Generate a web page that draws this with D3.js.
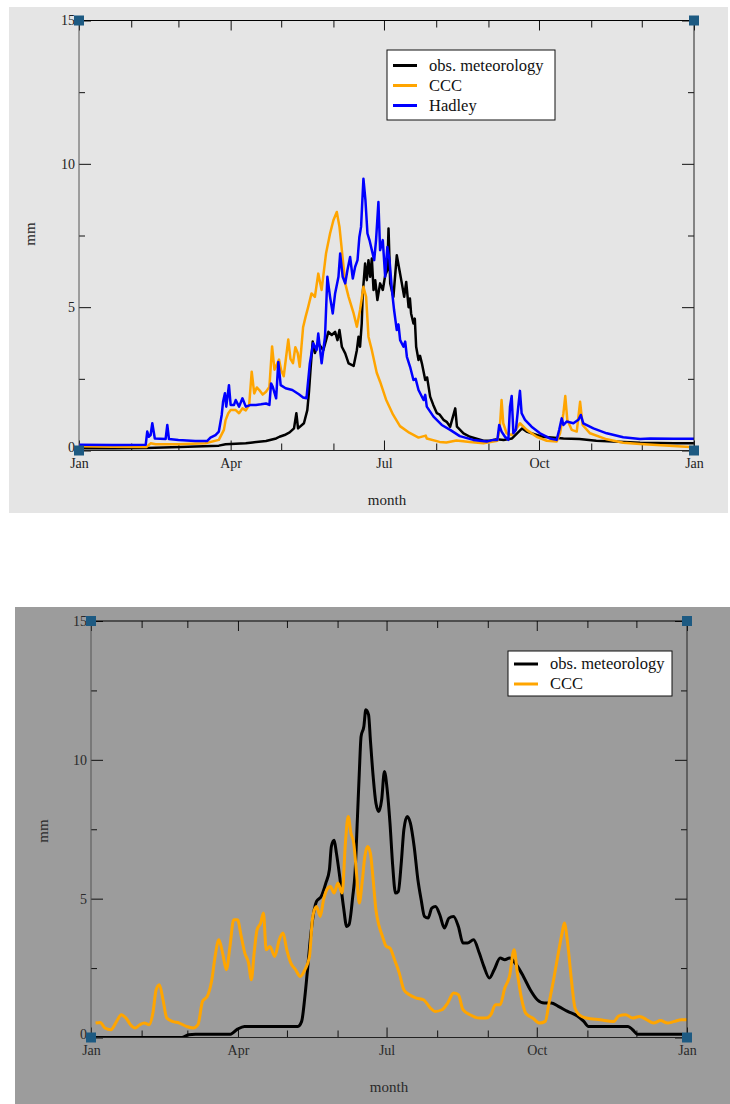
<!DOCTYPE html>
<html>
<head>
<meta charset="utf-8">
<script src="https://cdn.jsdelivr.net/npm/d3@7"></script>
<style>
  body { margin: 0; background: #fff; }
  svg text { font-family: "Liberation Serif", "DejaVu Serif", serif; }
</style>
</head>
<body>
<svg id="chart" width="730" height="1104"></svg>
<script>
// month starts (day of year) and labelled quarters
const monthStarts = [0, 31, 59, 90, 120, 151, 181, 212, 243, 273, 304, 334, 365];
const quarterDays = [0, 90, 181, 273, 365];
const quarterLabels = ['Jan', 'Apr', 'Jul', 'Oct', 'Jan'];
const yMajor = [0, 5, 10, 15];
const yMinor = [2.5, 7.5, 12.5];

// top chart: [day, mm]
const topObs = [[0,0.08],[20,0.08],[40,0.09],[60,0.12],[83,0.17],[87,0.22],[99,0.25],[103,0.28],[111,0.33],[117,0.42],[119,0.48],[122,0.54],[125,0.63],[127.6,0.77],[129,1.3],[130,0.77],[133.5,0.95],[135.5,1.41],[136.5,2.05],[137.5,2.9],[138.7,3.8],[140,3.4],[142,3.74],[145,3.5],[148,4.14],[150,4.03],[152,4.14],[153.4,3.85],[154.6,4.2],[156,3.62],[158,3.39],[160,3.04],[163,2.95],[164.9,3.5],[165.9,3.97],[166.8,3.62],[167.8,4.43],[168.4,5.48],[169.8,6.52],[170.8,5.94],[171.8,6.64],[172.8,6.06],[173.8,6.7],[174.8,5.6],[175.8,5.94],[177.1,5.25],[178.7,5.83],[180.3,5.6],[181.7,6.1],[183,6.29],[183.7,7.74],[184.7,5.83],[186.6,5.36],[188.6,6.81],[190.2,6.29],[191.6,5.83],[193,5.36],[194.2,5.88],[195.6,5.0],[196.4,5.3],[197.1,4.78],[198.5,4.43],[199.3,4.6],[200.1,3.62],[201.5,3.16],[202.4,3.3],[203.5,3.04],[205.5,2.46],[206.6,2.55],[208.4,1.88],[210.2,1.6],[212.4,1.3],[214.1,1.25],[216.3,1.07],[218.2,1.0],[220.3,0.83],[223.3,1.47],[224.3,0.83],[228.2,0.6],[232,0.48],[240,0.34],[244,0.34],[248,0.39],[252,0.37],[257,0.42],[260,0.6],[263,0.77],[266,0.65],[275,0.48],[287.5,0.42],[297,0.4],[307,0.34],[317,0.31],[333,0.27],[353,0.25],[365,0.25]];
const topCCC = [[0,0.15],[20,0.13],[40,0.12],[42.5,0.25],[45.5,0.22],[59,0.22],[75,0.25],[83,0.37],[86,0.72],[87,1.06],[88.6,1.3],[90,1.41],[93,1.41],[95,1.3],[97,1.47],[99,1.4],[101,1.59],[102.5,2.75],[104,1.99],[105.5,2.2],[107,2.11],[109,1.95],[111,2.05],[113,2.22],[114.6,3.63],[116,2.82],[118.7,3.17],[120,2.8],[121.5,2.59],[124.2,3.87],[125.5,3.2],[127,3.05],[128.4,3.6],[129.8,3.4],[131,2.92],[133,4.3],[134.5,4.67],[136,5.0],[138,5.48],[140,5.36],[142,6.17],[144,5.6],[146.6,6.87],[149,7.57],[151,8.03],[153,8.32],[154.6,7.8],[156,6.99],[158,5.83],[160,5.36],[163,4.78],[164.9,4.32],[166.8,4.9],[168.8,5.71],[170.4,5.36],[171.8,3.97],[173.8,3.5],[176.7,2.71],[178.7,2.4],[182.2,1.78],[186.4,1.25],[190.5,0.85],[196,0.62],[201.5,0.45],[205.8,0.52],[206.4,0.42],[214,0.3],[218,0.28],[224,0.35],[232,0.3],[240,0.25],[248.3,0.34],[249.8,0.83],[250.8,1.76],[251.8,0.95],[253.8,0.6],[256.8,0.54],[259.7,0.77],[261.7,0.95],[265.7,0.72],[271.6,0.48],[277.6,0.34],[283.5,0.31],[285.5,0.6],[287.5,1.3],[288.6,1.9],[289.8,1.07],[292.4,0.72],[295.4,0.66],[297.4,1.7],[298.9,0.89],[303.3,0.6],[313.2,0.39],[323,0.27],[333,0.23],[352.8,0.16],[365,0.11]];
const topHadley = [[0,0.2],[20,0.19],[39.6,0.2],[40.5,0.66],[41.5,0.48],[42.5,0.54],[43.5,0.95],[45,0.42],[51.4,0.4],[52.4,0.89],[53.4,0.4],[59,0.37],[69,0.33],[76,0.33],[78,0.45],[81,0.54],[83,0.66],[84.7,1.24],[85.5,1.7],[86.6,2.0],[87.4,1.53],[89,2.28],[90,1.59],[92,1.59],[93,1.76],[95,1.53],[97,1.82],[99,1.53],[102,1.59],[105,1.59],[108,1.61],[111,1.64],[113,1.59],[114,2.34],[115,2.22],[117,1.82],[118.3,3.09],[119.7,2.28],[122.6,2.17],[126.6,2.11],[130.5,1.96],[133,1.85],[135,1.82],[137,3.04],[139,3.74],[141,3.5],[142,4.08],[144,3.04],[146,3.97],[147.4,6.06],[149,5.36],[150.6,4.78],[152,5.48],[154,6.06],[155,6.87],[156.5,6.06],[158,5.83],[159.3,6.29],[160.9,6.75],[162.5,6.0],[163.9,6.41],[165.3,6.64],[166.4,7.45],[167.4,7.8],[168.8,9.48],[170,8.73],[171.2,7.57],[172.4,7.34],[173.8,6.99],[175.2,6.64],[176.3,7.34],[177.7,8.67],[178.7,6.99],[180.3,7.34],[181.7,6.06],[183,7.1],[184.3,6.64],[185.7,5.6],[187,4.9],[188.6,4.2],[189.6,4.4],[190.6,3.85],[192.6,3.62],[193.6,3.8],[194.6,3.27],[196.5,2.92],[198.5,2.46],[199.8,2.5],[201.5,2.11],[204.5,1.76],[205.5,1.94],[206.4,1.53],[210.4,1.18],[215.3,0.89],[220.3,0.72],[226,0.5],[234,0.37],[242,0.31],[245.9,0.37],[248.3,0.37],[249.4,0.89],[250.8,0.66],[252.8,0.48],[254.8,0.37],[255.8,1.53],[256.8,1.9],[257.8,0.6],[259.3,0.72],[260.7,1.53],[261.7,2.08],[262.7,1.3],[264.7,1.07],[268.6,0.83],[273.6,0.6],[279.5,0.42],[283.5,0.37],[285,0.72],[286.5,1.12],[287.5,0.89],[289.4,1.01],[293.4,0.95],[296.4,1.07],[297.8,1.24],[299.3,0.95],[305.3,0.77],[313.2,0.6],[323,0.46],[333,0.4],[339,0.42],[352.8,0.41],[365,0.41]];

// bottom chart: [day, mm]
const botObs = [[0,0],[55.5,0],[59.8,0.1],[64,0.12],[85.4,0.12],[89.7,0.3],[94,0.4],[126.7,0.4],[129,0.58],[131,1.48],[132.4,2.32],[134.7,3.76],[136.7,4.6],[138.1,4.9],[141,5.08],[143.8,5.56],[146,6.04],[147.2,6.88],[148.9,7.1],[150.3,6.64],[152.3,5.8],[154.6,4.72],[156.6,4.0],[158,4.06],[160.3,5.08],[161.7,5.92],[163.2,7.96],[164.3,9.52],[165.4,10.84],[167.1,11.2],[168.3,11.8],[170,11.62],[171.1,10.72],[172.8,9.4],[174.5,8.44],[176.3,8.14],[178,8.56],[179.7,9.58],[181.4,8.92],[183.1,7.72],[184.8,6.16],[186.5,5.2],[188.2,5.26],[190,6.28],[191.6,7.48],[193.6,7.96],[195.6,7.72],[197.9,6.88],[200.2,5.68],[202.2,4.96],[204.2,4.36],[206.4,4.3],[208.7,4.66],[211,4.72],[213.6,4.42],[216.4,3.94],[219.2,4.3],[222,4.36],[225,4.0],[227.8,3.4],[230.6,3.4],[234.3,3.52],[237.8,3.04],[240.6,2.56],[244,2.14],[246.9,2.44],[250.6,2.86],[253.4,2.8],[256.3,2.86],[260.5,2.62],[264.8,2.2],[269,1.72],[273.3,1.36],[277.6,1.24],[281.9,1.24],[286.2,1.12],[291.9,0.94],[297.6,0.78],[301.8,0.58],[304.7,0.4],[328.9,0.4],[331.7,0.28],[334.6,0.12],[361.6,0.12],[365,0.06]];
const botCCC = [[2.8,0.52],[5.7,0.54],[8.5,0.34],[12.2,0.28],[15.7,0.58],[18.5,0.82],[21.4,0.7],[24.2,0.46],[27,0.34],[29.9,0.46],[32.7,0.52],[35.6,0.46],[37.9,0.88],[39.9,1.72],[41.9,1.9],[44.1,1.36],[46.4,0.7],[49.8,0.58],[54.1,0.52],[58.4,0.4],[62.6,0.34],[65.5,0.46],[68.3,1.3],[71.2,1.48],[74,2.08],[76,2.92],[78.3,3.52],[80.6,3.04],[82.9,2.44],[85.1,3.28],[87.4,4.24],[89.7,4.24],[92,3.64],[94.2,3.04],[96.5,2.68],[98.2,2.08],[99.9,3.04],[101.7,3.88],[103.9,4.12],[105.6,4.48],[107.3,3.16],[109.6,3.28],[112.5,2.92],[115.3,3.52],[117.6,3.76],[119.9,3.16],[122.4,2.68],[125.3,2.44],[128.1,2.2],[131,2.44],[133.8,2.92],[135.8,4.36],[138.1,4.72],[140.4,4.36],[142.4,4.96],[144.4,5.32],[146.6,5.44],[148.9,5.2],[151.2,5.56],[153.8,5.2],[155.8,7.0],[157.5,7.96],[159.2,7.36],[160.9,7.0],[162.6,5.92],[164.3,4.84],[166,5.56],[167.7,6.52],[169.4,6.88],[171.1,6.64],[172.8,5.68],[174.5,4.6],[176.5,4.0],[178.5,3.64],[180.8,3.28],[183.1,3.22],[185.9,2.8],[188.8,2.32],[191.6,1.72],[195,1.54],[199.3,1.42],[203.6,1.36],[207.9,1.06],[210.7,0.94],[215,1.0],[218.4,1.24],[222.1,1.6],[225,1.54],[227.8,1.0],[232.1,0.82],[237.8,0.7],[242,0.7],[244.9,0.82],[247.7,1.18],[250.6,1.18],[253.4,1.78],[256.3,2.2],[259.1,3.16],[261.1,2.32],[263.4,1.48],[266.2,0.88],[270.5,0.7],[274.8,0.52],[278.2,0.58],[280.5,1.24],[283.3,2.08],[286.2,3.04],[288.5,3.76],[289.9,4.12],[291.9,3.4],[294.2,2.08],[296.4,1.06],[299,0.82],[303.3,0.7],[311.8,0.64],[320.3,0.58],[323.2,0.78],[327.4,0.82],[331.7,0.7],[336,0.76],[340.3,0.64],[344.5,0.52],[348.8,0.61],[353.1,0.52],[357.3,0.58],[361.6,0.64],[365,0.64]];

const svg = d3.select('#chart');
const markColor = '#1d5a82';

function drawPanel(p) {
  svg.append('rect')
    .attr('x', p.bg[0]).attr('y', p.bg[1])
    .attr('width', p.bg[2]).attr('height', p.bg[3])
    .attr('fill', p.bgColor);

  const x = d3.scaleLinear().domain([0, 365]).range([p.left, p.right]);
  const y = d3.scaleLinear().domain([0, 15]).range([p.bottom, p.top]);

  const clipId = 'clip-' + p.id;
  svg.append('clipPath').attr('id', clipId)
    .append('rect')
    .attr('x', p.left).attr('y', p.top)
    .attr('width', p.right - p.left).attr('height', p.bottom - p.top);

  const g = svg.append('g');

  // ticks, all pointing inward
  const addAxis = (axis, tx, ty, labels) => {
    const a = g.append('g').attr('transform', `translate(${tx},${ty})`).call(axis);
    a.select('.domain').remove();
    a.selectAll('line').attr('stroke', '#111');
    if (!labels) a.selectAll('text').remove();
    else a.selectAll('text')
      .attr('font-size', 14)
      .attr('fill', p.textColor)
      .attr('font-family', '"Liberation Serif", "DejaVu Serif", serif');
    return a;
  };
  const yAx = addAxis(d3.axisLeft(y).tickValues(yMajor).tickSize(-12).tickPadding(4).tickFormat(d3.format('d')), p.left, 0, true);
  // the 0 label sits just above the Jan label, as in the original
  yAx.selectAll('text').filter(d => d === 0).attr('dy', '0.05em');
  addAxis(d3.axisLeft(y).tickValues(yMinor).tickSize(-6), p.left, 0, false);
  addAxis(d3.axisRight(y).tickValues(yMajor).tickSize(-12), p.right, 0, false);
  addAxis(d3.axisRight(y).tickValues(yMinor).tickSize(-6), p.right, 0, false);
  addAxis(d3.axisBottom(x).tickValues(quarterDays).tickSize(-10).tickPadding(8)
    .tickFormat((d, i) => quarterLabels[i]), 0, p.bottom, true);
  addAxis(d3.axisBottom(x).tickValues(monthStarts.filter(d => !quarterDays.includes(d))).tickSize(-7), 0, p.bottom, false);
  addAxis(d3.axisTop(x).tickValues(quarterDays).tickSize(-10), 0, p.top, false);
  addAxis(d3.axisTop(x).tickValues(monthStarts.filter(d => !quarterDays.includes(d))).tickSize(-7), 0, p.top, false);

  // series
  const line = d3.line().x(d => x(d[0])).y(d => y(d[1])).curve(p.curve);
  const lines = svg.append('g').attr('clip-path', `url(#${clipId})`);
  p.series.forEach(s => {
    lines.append('path')
      .datum(s.data)
      .attr('fill', 'none')
      .attr('stroke', s.color)
      .attr('stroke-width', p.lineWidth)
      .attr('stroke-linejoin', 'round')
      .attr('d', line);
  });

  // frame
  const frame = svg.append('g');
  frame.append('line').attr('x1', p.left).attr('x2', p.right).attr('y1', p.top).attr('y2', p.top).attr('stroke', '#000');
  frame.append('line').attr('x1', p.right).attr('x2', p.right).attr('y1', p.top).attr('y2', p.bottom).attr('stroke', '#222');
  frame.append('line').attr('x1', p.left).attr('x2', p.right).attr('y1', p.bottom).attr('y2', p.bottom).attr('stroke', '#222');
  frame.append('line').attr('x1', p.left).attr('x2', p.left).attr('y1', p.top).attr('y2', p.bottom).attr('stroke', '#555');

  // corner handles
  [[p.left, p.top], [p.right, p.top], [p.left, p.bottom], [p.right, p.bottom]].forEach(c => {
    frame.append('rect')
      .attr('x', c[0] - 5).attr('y', c[1] - 5)
      .attr('width', 10).attr('height', 10)
      .attr('fill', markColor);
  });

  // axis titles
  svg.append('text')
    .attr('transform', `translate(${p.yLabel[0]},${p.yLabel[1]}) rotate(-90)`)
    .attr('text-anchor', 'middle').attr('dy', '0.35em')
    .attr('font-size', 15).attr('fill', p.textColor)
    .text('mm');
  svg.append('text')
    .attr('x', p.xLabel[0]).attr('y', p.xLabel[1])
    .attr('text-anchor', 'middle').attr('dy', '0.35em')
    .attr('font-size', 15).attr('fill', p.textColor)
    .text('month');

  // legend
  const lg = svg.append('g').attr('transform', `translate(${p.legend[0]},${p.legend[1]})`);
  lg.append('rect')
    .attr('width', p.legend[2]).attr('height', p.legend[3])
    .attr('fill', '#fff').attr('stroke', '#111').attr('stroke-width', 1);
  p.series.forEach((s, i) => {
    const ry = p.legendRow0 + i * p.legendStep;
    lg.append('line')
      .attr('x1', 6).attr('x2', 30).attr('y1', ry).attr('y2', ry)
      .attr('stroke', s.color).attr('stroke-width', 3);
    lg.append('text')
      .attr('x', 42).attr('y', ry).attr('dy', '0.32em')
      .attr('font-size', 16.5).attr('fill', '#111')
      .text(s.name);
  });
}

drawPanel({
  id: 'top',
  bg: [9, 7, 719, 506], bgColor: '#e5e5e5', textColor: '#222',
  left: 79, right: 694, top: 20.5, bottom: 450.5,
  curve: d3.curveLinear, lineWidth: 2.5,
  series: [
    { name: 'obs. meteorology', color: '#000', data: topObs },
    { name: 'CCC', color: '#ffa500', data: topCCC },
    { name: 'Hadley', color: '#0000ff', data: topHadley }
  ],
  legend: [387, 50, 168, 70], legendRow0: 15.5, legendStep: 20,
  yLabel: [30, 234], xLabel: [387, 500]
});

drawPanel({
  id: 'bottom',
  bg: [15, 607, 715, 497], bgColor: '#9c9c9c', textColor: '#2a2a2a',
  left: 91, right: 687, top: 621, bottom: 1037.5,
  curve: d3.curveMonotoneX, lineWidth: 3,
  series: [
    { name: 'obs. meteorology', color: '#000', data: botObs },
    { name: 'CCC', color: '#ffa500', data: botCCC }
  ],
  legend: [508, 651, 164, 45], legendRow0: 13, legendStep: 20,
  yLabel: [43, 831], xLabel: [389, 1087]
});
</script>
</body>
</html>
